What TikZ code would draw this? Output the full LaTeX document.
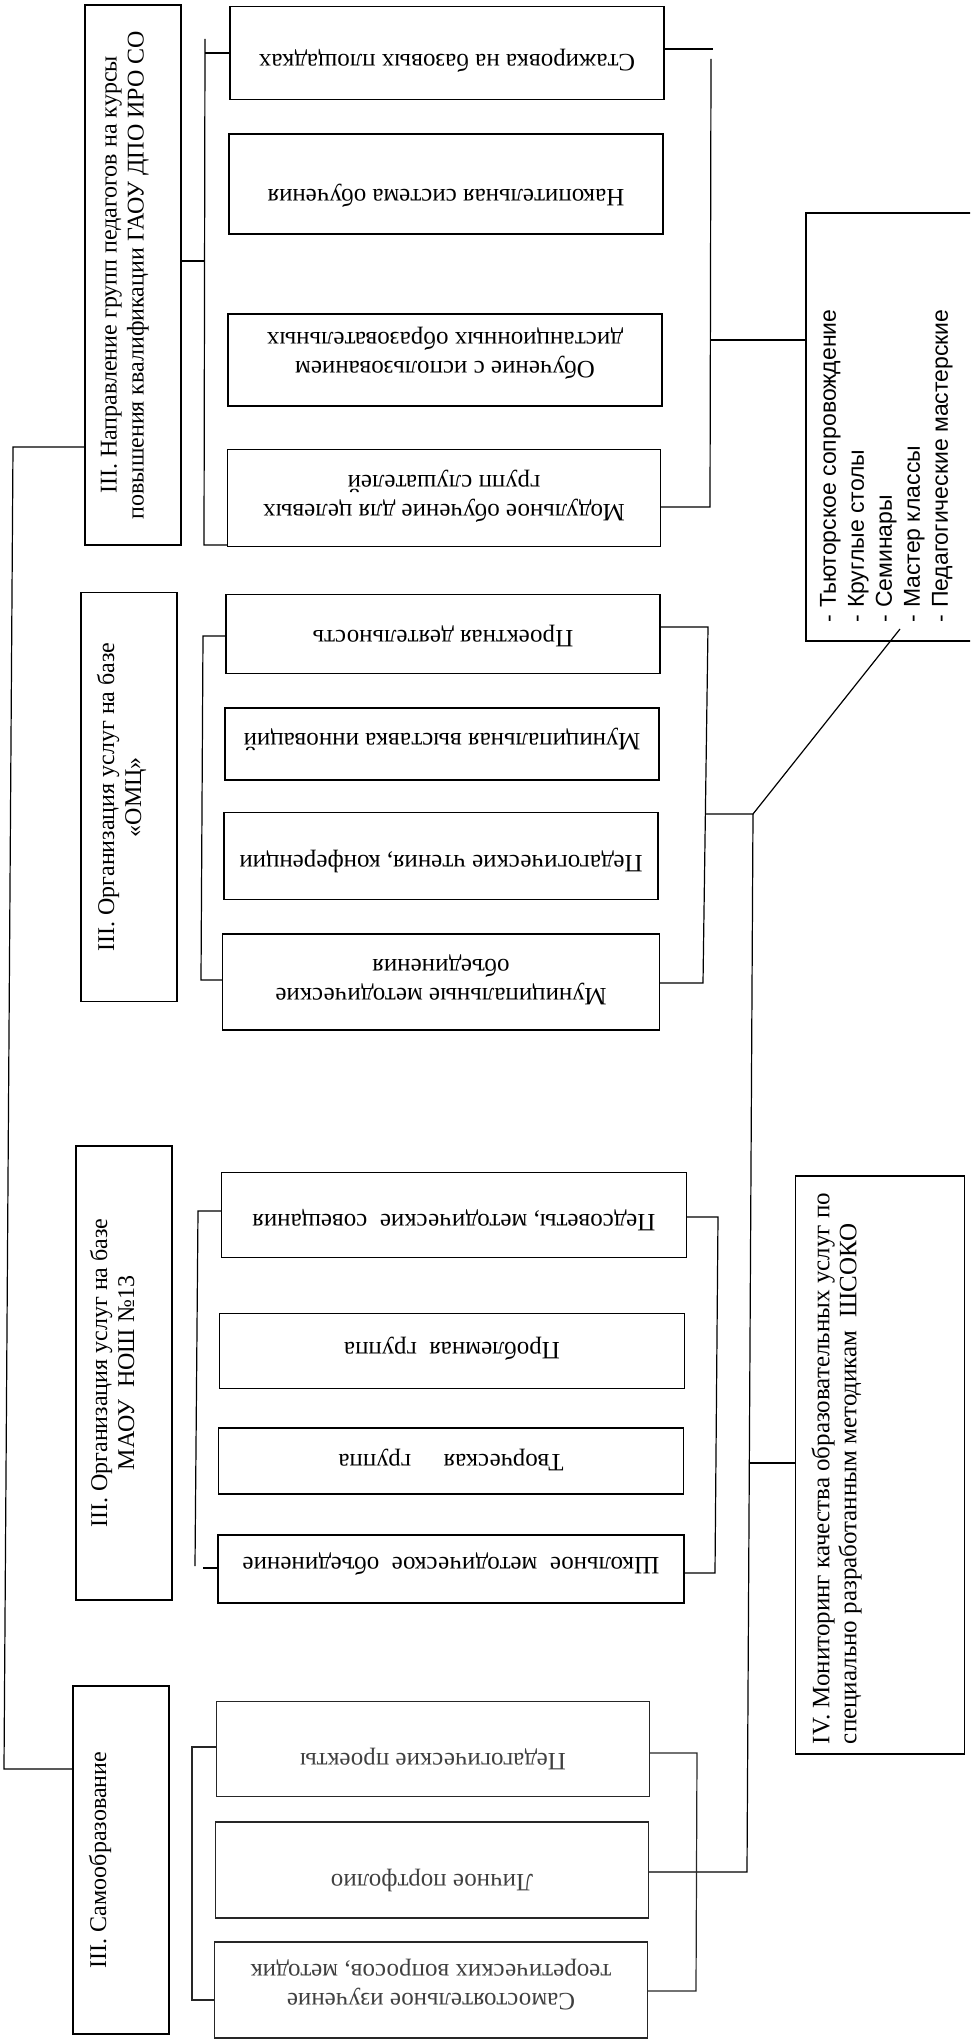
\documentclass[tikz,border=0pt]{standalone}
\usepackage{fontspec}
\setmainfont{Liberation Serif}
\newfontfamily\listfont{Liberation Sans}

\begin{document}
\begin{tikzpicture}[x=1pt,y=-1pt,line width=1.2pt,
                    box/.style={draw,rectangle,inner sep=0pt},
                    grey box/.style={box,draw=black!85},
                    head text/.style={rotate=90,anchor=north,align=center,inner sep=0pt,
                                      font=\fontsize{24}{27}\selectfont},
                    item text/.style={rotate=180,anchor=north,align=center,inner sep=0pt,
                                      font=\fontsize{25}{29}\selectfont},
                    list text/.style={rotate=90,anchor=north west,align=left,inner sep=0pt,
                                      font=\listfont\fontsize{23}{28}\selectfont}]
  \useasboundingbox (0,0) rectangle (970,2044);
  \clip (0,0) rectangle (970,2044);

  %headers%
  \node[box,minimum width=96pt,minimum height=540pt] (hA) at (133,275) {};
  \node[box,minimum width=96pt,minimum height=409pt] (hB) at (129,797) {};
  \node[box,minimum width=96pt,minimum height=454pt] (hC) at (124,1373) {};
  \node[box,minimum width=96pt,minimum height=348pt] (hD) at (121,1860) {};
  \node[head text] (tA) at ([xshift=16pt]hA.west) {III. Направление групп педагогов на курсы\\повышения квалификации ГАОУ ДПО ИРО СО};
  \node[head text] (tB) at ([xshift=16pt]hB.west) {III. Организация услуг на базе\\«ОМЦ»};
  \node[head text] (tC) at ([xshift=14pt]hC.west) {III. Организация услуг на базе\\МАОУ\ \ НОШ №13};
  \node[head text] (tD) at ([xshift=16pt]hD.west) {III. Самообразование};

  %courses%
  \node[box,minimum width=434pt,minimum height=93pt] (a1) at (447,53) {};
  \node[box,minimum width=434pt,minimum height=100pt] (a2) at (446,184) {};
  \node[box,minimum width=434pt,minimum height=92pt] (a3) at (445,360) {};
  \node[box,minimum width=433pt,minimum height=97pt] (a4) at (444,498) {};
  \node[item text] (ta1) at ([yshift=27pt]a1.south) {Стажировка на базовых площадках};
  \node[item text] (ta2) at ([yshift=27pt]a2.south) {Накопительная система обучения};
  \node[item text] (ta3) at ([yshift=27pt]a3.south) {Обучение с использованием\\дистанционных образовательных};
  \node[item text] (ta4) at ([yshift=24pt]a4.south) {Модульное обучение для целевых\\групп слушателей};

  %OMC%
  \node[box,minimum width=434pt,minimum height=79pt] (b1) at (443,634) {};
  \node[box,minimum width=434pt,minimum height=72pt] (b2) at (442,744) {};
  \node[box,minimum width=434pt,minimum height=87pt] (b3) at (441,856) {};
  \node[box,minimum width=437pt,minimum height=96pt] (b4) at (441,982) {};
  \node[item text] (tb1) at ([yshift=27pt]b1.south) {Проектная деятельность};
  \node[item text] (tb2) at ([yshift=29pt]b2.south) {Муниципальная выставка инноваций};
  \node[item text] (tb3) at ([yshift=27pt]b3.south) {Педагогические чтения, конференции};
  \node[item text] (tb4) at ([yshift=25pt]b4.south) {Муниципальные методические\\объединения};

  %school%
  \node[box,minimum width=465pt,minimum height=85pt] (c1) at (454,1215) {};
  \node[box,minimum width=465pt,minimum height=75pt] (c2) at (452,1351) {};
  \node[box,minimum width=465pt,minimum height=66pt] (c3) at (451,1461) {};
  \node[box,minimum width=466pt,minimum height=68pt] (c4) at (451,1569) {};
  \node[item text] (tc1) at ([yshift=27pt]c1.south) {Педсоветы, методические\ \ совещания};
  \node[item text] (tc2) at ([yshift=28pt]c2.south) {Проблемная\ \ группа};
  \node[item text] (tc3) at ([yshift=23pt]c3.south) {Творческая\hspace{1.3em}группа};
  \node[item text] (tc4) at ([yshift=28pt]c4.south) {Школьное\ \ методическое\ \ объединение};

  %self%
  \node[grey box,minimum width=433pt,minimum height=95pt] (d1) at (433,1749) {};
  \node[grey box,minimum width=433pt,minimum height=96pt] (d2) at (432,1870) {};
  \node[grey box,minimum width=433pt,minimum height=96pt] (d3) at (431,1990) {};
  \node[item text,text=black!75] (td1) at ([yshift=27pt]d1.south) {Педагогические проекты};
  \node[item text,text=black!75] (td2) at ([yshift=26pt]d2.south) {Личное портфолио};
  \node[item text,text=black!75] (td3) at ([yshift=28pt]d3.south) {Самостоятельное изучение\\теоретических вопросов, методик};

  %forms and monitoring%
  \node[box,minimum width=184pt,minimum height=428pt] (lst) at (898,427) {};
  \node[list text] (tl) at ([xshift=14pt,yshift=19pt]lst.south west)
    {- Тьюторское сопровождение\\- Круглые столы\\- Семинары\\- Мастер классы\\- Педагогические мастерские};
  \node[box,minimum width=169pt,minimum height=578pt] (iv) at (880,1465) {};
  \node[head text,anchor=north west,align=left,font=\fontsize{25}{27}\selectfont] (tiv) at ([xshift=16pt,yshift=10pt]iv.south west)
    {IV. Мониторинг качества образовательных услуг по\\специально разработанным методикам\ \ ШСОКО};

  %connectors%
  \coordinate (sp1) at (13,447);
  \coordinate (sp2) at (4,1769);
  \draw (sp1 -| hA.west) -- (sp1) -- (sp2) -- (sp2 -| hD.west);

  \coordinate (jA) at (205,261);
  \coordinate (lA1) at (205,39);
  \coordinate (lA2) at (204,545);
  \draw (jA -| hA.east) -- (jA);
  \draw (lA1) -- (lA2) -- (lA2 -| a4.west);
  \draw (a1.west) -- (a1.west -| lA1);
  \coordinate (rA0) at (713,49);
  \coordinate (rA1) at (711,59);
  \coordinate (rA2) at (710,507);
  \coordinate (jL) at (711,340);
  \draw (rA0 -| a1.east) -- (rA0);
  \draw (rA1) -- (rA2) -- (rA2 -| a4.east);
  \draw (jL) -- (jL -| lst.west);

  \coordinate (lB1) at (203,636);
  \coordinate (lB2) at (201,980);
  \draw (lB1 -| b1.west) -- (lB1) -- (lB2) -- (lB2 -| b4.west);
  \coordinate (rB1) at (708,627);
  \coordinate (rB2) at (703,983);
  \draw (rB1 -| b1.east) -- (rB1) -- (rB2) -- (rB2 -| b4.east);
  \coordinate (jB) at (705,814);
  \coordinate (kB) at (753,814);
  \coordinate (eL) at (900,629);
  \coordinate (mD) at (747,1872);
  \coordinate (jIV) at (749,1463);
  \draw (jB) -- (kB) -- (eL);
  \draw (kB) -- (mD) -- (mD -| d2.east);
  \draw (jIV) -- (jIV -| iv.west);

  \coordinate (lC1) at (198,1211);
  \coordinate (lC2) at (195,1566);
  \coordinate (tC4) at (203,1568);
  \draw (lC1 -| c1.west) -- (lC1) -- (lC2);
  \draw (tC4) -- (tC4 -| c4.west);
  \coordinate (rC1) at (718,1217);
  \coordinate (rC2) at (715,1573);
  \draw (rC1 -| c1.east) -- (rC1) -- (rC2) -- (rC2 -| c4.east);

  \coordinate (lD1) at (192,1747);
  \coordinate (lD2) at (192,2000);
  \draw[black!85] (lD1 -| d1.west) -- (lD1) -- (lD2) -- (lD2 -| d3.west);
  \coordinate (rD1) at (697,1753);
  \coordinate (rD2) at (696,1991);
  \draw[black!85] (rD1 -| d1.east) -- (rD1) -- (rD2) -- (rD2 -| d3.east);
\end{tikzpicture}
\end{document}
